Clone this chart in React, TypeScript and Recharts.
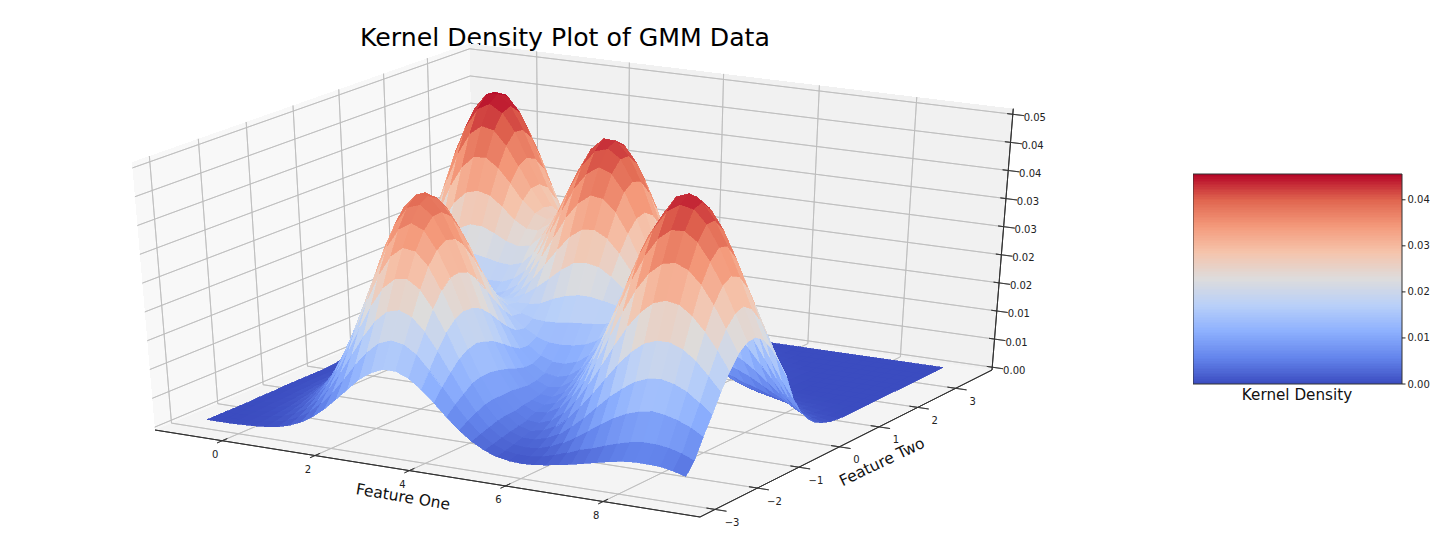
import { ComposedChart, Scatter, Line, XAxis, YAxis, ReferenceArea } from 'recharts'

const WIDTH = 1438
const HEIGHT = 558
const FONT = '"DejaVu Sans", sans-serif'

// Kernel density, in units of 0.0001.
// One row per Feature Two step (front to back), one value per Feature One step (left to right).
// Rows may stop early: whatever is missing on the right is 0.
const densityRows = [
  [0, 0, 0, 1, 2, 4, 7, 13, 22, 35, 52, 72, 93, 114, 129, 138, 138, 129, 113, 93, 71, 51, 35, 23, 15, 11, 10, 11, 14, 18, 22, 27, 32, 37, 41, 43, 43, 42, 38, 32],
  [0, 0, 0, 1, 3, 6, 11, 20, 33, 52, 75, 102, 131, 156, 175, 183, 179, 165, 141, 114, 86, 61, 41, 27, 18, 15, 15, 18, 24, 32, 41, 47, 55, 62, 68, 71, 71, 68, 62, 53],
  [0, 0, 1, 2, 5, 9, 17, 29, 48, 73, 104, 139, 174, 204, 224, 230, 221, 199, 168, 133, 98, 69, 46, 31, 22, 20, 22, 29, 39, 52, 67, 82, 96, 107, 114, 118, 115, 109, 100, 87],
  [0, 0, 1, 3, 7, 13, 24, 41, 66, 98, 138, 181, 222, 256, 275, 278, 263, 232, 193, 150, 110, 76, 51, 35, 27, 27, 33, 44, 61, 80, 102, 123, 141, 156, 165, 167, 162, 152, 136, 118],
  [0, 1, 2, 5, 9, 18, 33, 55, 86, 126, 174, 224, 271, 306, 324, 321, 298, 258, 210, 160, 115, 79, 54, 38, 32, 36, 47, 65, 89, 116, 145, 174, 198, 216, 224, 224, 215, 199, 176, 151],
  [0, 1, 3, 6, 13, 24, 42, 70, 108, 155, 209, 265, 314, 348, 362, 352, 320, 274, 218, 165, 116, 79, 54, 41, 39, 47, 64, 90, 122, 158, 196, 232, 260, 280, 287, 283, 267, 243, 214, 180],
  [1, 2, 4, 8, 16, 31, 52, 85, 128, 182, 241, 300, 349, 380, 388, 370, 331, 277, 217, 161, 113, 80, 58, 48, 51, 63, 87, 117, 158, 204, 250, 291, 323, 342, 347, 337, 315, 283, 245, 204],
  [1, 2, 5, 10, 20, 37, 62, 99, 147, 204, 266, 324, 371, 396, 397, 372, 327, 271, 210, 155, 109, 78, 60, 54, 61, 79, 109, 149, 196, 248, 299, 344, 377, 395, 396, 380, 349, 310, 264, 217],
  [1, 3, 6, 13, 24, 42, 70, 109, 160, 219, 280, 335, 376, 394, 387, 359, 310, 253, 195, 144, 103, 76, 63, 61, 73, 96, 131, 176, 229, 285, 341, 386, 419, 433, 428, 404, 367, 320, 270, 219],
  [2, 3, 7, 14, 27, 47, 76, 116, 166, 223, 281, 329, 363, 374, 364, 330, 282, 228, 176, 132, 98, 78, 69, 72, 87, 113, 150, 196, 252, 311, 365, 403, 437, 446, 434, 405, 363, 312, 259, 208],
  [2, 4, 8, 16, 29, 49, 79, 118, 166, 219, 269, 311, 336, 343, 327, 294, 249, 202, 158, 122, 98, 84, 80, 86, 102, 129, 165, 211, 264, 318, 369, 407, 430, 433, 416, 383, 338, 287, 234, 186],
  [2, 4, 9, 16, 29, 49, 77, 114, 160, 207, 249, 282, 301, 299, 283, 253, 216, 178, 145, 121, 105, 98, 98, 105, 120, 144, 176, 215, 262, 310, 353, 384, 400, 397, 376, 343, 298, 250, 202, 157],
  [2, 4, 9, 16, 31, 50, 76, 110, 148, 188, 222, 248, 260, 257, 240, 216, 188, 161, 142, 130, 123, 122, 124, 129, 140, 158, 181, 212, 249, 287, 320, 342, 351, 345, 323, 289, 249, 205, 163, 125],
  [2, 4, 8, 18, 31, 49, 73, 102, 134, 165, 193, 211, 219, 215, 203, 187, 171, 159, 153, 151, 152, 155, 157, 159, 162, 169, 183, 202, 226, 251, 274, 288, 291, 281, 260, 225, 186, 145, 108, 78],
  [3, 6, 12, 20, 32, 49, 70, 96, 123, 148, 168, 180, 185, 183, 176, 170, 168, 169, 174, 185, 193, 198, 198, 194, 189, 182, 182, 189, 199, 212, 224, 230, 228, 217, 197, 166, 132, 100, 70, 48],
  [5, 9, 14, 23, 36, 53, 72, 94, 115, 135, 150, 158, 161, 161, 163, 167, 178, 194, 212, 231, 246, 249, 245, 231, 212, 195, 180, 172, 170, 171, 174, 174, 170, 158, 140, 115, 90, 65, 45, 28],
  [7, 12, 19, 30, 43, 60, 79, 99, 117, 132, 141, 148, 149, 154, 162, 177, 200, 229, 258, 284, 300, 302, 290, 266, 236, 204, 176, 156, 142, 135, 129, 125, 118, 107, 92, 75, 58, 38, 26, 15],
  [10, 18, 28, 41, 58, 77, 98, 117, 131, 142, 148, 151, 153, 160, 175, 200, 233, 271, 309, 338, 355, 352, 331, 296, 254, 210, 171, 139, 119, 104, 95, 87, 80, 71, 59, 47, 35, 22, 14, 8],
  [16, 26, 41, 58, 79, 103, 125, 145, 158, 166, 168, 169, 169, 178, 196, 228, 270, 313, 356, 385, 400, 391, 361, 316, 262, 208, 163, 125, 97, 78, 66, 58, 50, 43, 35, 28, 20, 12, 7, 3],
  [24, 40, 59, 83, 111, 140, 167, 187, 200, 204, 200, 195, 193, 200, 222, 257, 301, 350, 392, 420, 427, 411, 373, 321, 261, 202, 151, 110, 79, 59, 47, 38, 31, 25, 20, 15, 10, 5, 3, 1],
  [36, 57, 84, 116, 151, 187, 217, 238, 249, 248, 239, 227, 221, 225, 246, 281, 326, 374, 414, 436, 435, 411, 368, 310, 247, 187, 135, 94, 64, 44, 32, 24, 18, 15, 11, 8, 5, 2, 1],
  [51, 78, 113, 155, 199, 241, 277, 298, 304, 298, 281, 260, 247, 246, 262, 294, 335, 377, 410, 427, 421, 392, 343, 284, 222, 164, 115, 78, 51, 33, 22, 15, 10, 7, 5, 3, 2, 1, 1],
  [68, 104, 148, 198, 251, 299, 336, 357, 359, 343, 318, 289, 268, 260, 269, 295, 327, 363, 389, 399, 387, 356, 307, 248, 189, 138, 95, 62, 38, 24, 15, 10, 6, 4, 2, 1, 1],
  [87, 131, 183, 242, 301, 353, 391, 408, 403, 378, 343, 305, 273, 259, 262, 279, 306, 333, 350, 353, 337, 304, 258, 207, 156, 111, 74, 46, 27, 16, 9, 5, 3, 1],
  [106, 156, 216, 280, 344, 397, 431, 443, 429, 397, 352, 307, 270, 249, 244, 254, 272, 289, 299, 297, 278, 247, 207, 163, 121, 85, 56, 35, 20, 11, 6, 3, 1],
  [122, 176, 240, 308, 371, 422, 451, 455, 436, 395, 345, 295, 252, 226, 215, 218, 228, 238, 243, 236, 219, 191, 157, 122, 89, 61, 40, 24, 14, 8, 4, 2, 1],
  [133, 189, 254, 321, 381, 427, 450, 447, 420, 375, 321, 268, 225, 196, 182, 177, 182, 185, 186, 178, 162, 140, 113, 86, 63, 42, 27, 16, 9, 5, 2, 1],
  [138, 192, 255, 316, 371, 409, 424, 415, 384, 337, 283, 232, 190, 160, 144, 138, 138, 138, 135, 127, 114, 96, 77, 58, 41, 28, 17, 10, 6, 3, 2, 1],
  [135, 186, 242, 297, 342, 370, 378, 364, 332, 287, 237, 190, 152, 126, 109, 102, 99, 98, 94, 87, 77, 64, 50, 37, 26, 17, 11, 6, 3, 2, 1],
  [125, 170, 218, 263, 299, 319, 321, 305, 273, 232, 188, 148, 116, 93, 79, 71, 68, 65, 61, 55, 48, 40, 31, 22, 15, 10, 6, 3, 2, 1],
  [110, 148, 187, 222, 247, 260, 257, 240, 213, 178, 142, 110, 84, 65, 53, 47, 44, 41, 38, 34, 29, 23, 18, 13, 9, 6, 3, 2, 1],
  [92, 122, 152, 177, 195, 202, 197, 180, 158, 129, 101, 77, 58, 44, 35, 30, 26, 25, 22, 19, 16, 13, 10, 7, 5, 3, 2, 1],
  [73, 95, 116, 134, 145, 148, 142, 128, 109, 88, 67, 49, 36, 26, 20, 17, 15, 14, 12, 10, 8, 7, 5, 3, 2, 1],
  [55, 71, 85, 97, 103, 103, 98, 87, 73, 57, 42, 30, 21, 15, 11, 9, 9, 8, 6, 5, 4, 3, 2, 1],
]
const DENSITY_UNIT = 0.0001
const DENSITY_MAX = 0.0456
const COLUMNS = 40
// the peaks sat a few pixels too high against the box
const SURFACE_LIFT = 0.977

const featureOneTicks = [0, 2, 4, 6, 8]
const featureTwoTicks = [-3, -2, -1, 0, 1, 2, 3]
const densityTicks = [0, 0.005, 0.01, 0.015, 0.02, 0.025, 0.03, 0.035, 0.04, 0.045]
const densityTickLabels = ['0.00', '0.01', '0.01', '0.02', '0.02', '0.03', '0.03', '0.04', '0.04', '0.05']
const colorbarTicks = [0, 0.01, 0.02, 0.03, 0.04]

// coolwarm
const COOLWARM = ['#3b4cc0', '#6485ec', '#8db0fe', '#b9d0f9', '#dddcdc', '#f5c4ac', '#f49a7b', '#e0654f', '#b40426']

function coolwarm(value: number) {
  const t = Math.min(1, Math.max(0, value)) * (COOLWARM.length - 1)
  const i = Math.min(COOLWARM.length - 2, Math.floor(t))
  const f = t - i
  const parse = (c: string) => [1, 3, 5].map((p) => parseInt(c.slice(p, p + 2), 16))
  const a = parse(COOLWARM[i])
  const b = parse(COOLWARM[i + 1])
  return `rgb(${a.map((v, k) => Math.round(v + (b[k] - v) * f)).join(',')})`
}

// 3d box corners on the picture: (xmin,ymin) (xmax,ymin) (xmax,ymax) (xmin,ymax)
const [x0, y0] = [155, 430]
const [x1, y1] = [700, 517]
const [x2, y2] = [992, 370]
const [x3, y3] = [475, 296]
const sx = x0 - x1 + x2 - x3
const sy = y0 - y1 + y2 - y3
const den = (x1 - x2) * (y3 - y2) - (x3 - x2) * (y1 - y2)
const pg = (sx * (y3 - y2) - (x3 - x2) * sy) / den
const ph = ((x1 - x2) * sy - sx * (y1 - y2)) / den

const Z_BOTTOM = -0.0005
const Z_TOP = 0.046
const Z_SCALE = 5620 * Math.pow(1 + pg + ph, 0.75)

type Pt = { x: number; y: number }

function project(u: number, v: number, z: number): Pt {
  const w = pg * u + ph * v + 1
  const fx = ((x1 - x0 + pg * x1) * u + (x3 - x0 + ph * x3) * v + x0) / w
  const fy = ((y1 - y0 + pg * y1) * u + (y3 - y0 + ph * y3) * v + y0) / w
  const lift = ((z - Z_BOTTOM) * Z_SCALE) / Math.pow(w, 0.75)
  return { x: fx + lift * (fx - 585) * 0.0002, y: fy - lift }
}

const featureOneU = (x: number) => (x + 1.47) / 11.42
const featureTwoV = (y: number) => (y + 3.35) / 7.33

function cell(pts: Pt[], fill: string, stroke: string, strokeWidth: number) {
  return { sx: pts[0].x, sy: pts[0].y, pts, fill, stroke, strokeWidth }
}
const line = (a: Pt, b: Pt, color: string, width: number) => cell([a, b], 'none', color, width)

const paneCells = [
  cell([project(0, 0, Z_BOTTOM), project(0, 1, Z_BOTTOM), project(0, 1, Z_TOP), project(0, 0, Z_TOP)], '#f8f8f8', 'none', 0),
  cell([project(0, 1, Z_BOTTOM), project(1, 1, Z_BOTTOM), project(1, 1, Z_TOP), project(0, 1, Z_TOP)], '#f1f1f1', 'none', 0),
  cell([project(0, 0, Z_BOTTOM), project(1, 0, Z_BOTTOM), project(1, 1, Z_BOTTOM), project(0, 1, Z_BOTTOM)], '#f4f4f4', 'none', 0),
]

const GRID = '#bcbcbc'
const AXIS = '#333333'
const gridCells: ReturnType<typeof cell>[] = []
const axisCells: ReturnType<typeof cell>[] = []

for (const t of featureOneTicks) {
  const u = featureOneU(t)
  gridCells.push(line(project(u, 0, Z_BOTTOM), project(u, 1, Z_BOTTOM), GRID, 0.8))
  gridCells.push(line(project(u, 1, Z_BOTTOM), project(u, 1, Z_TOP), GRID, 0.8))
  axisCells.push(line(project(u, -0.015, Z_BOTTOM), project(u, 0.015, Z_BOTTOM), AXIS, 0.8))
}
for (const t of featureTwoTicks) {
  const v = featureTwoV(t)
  gridCells.push(line(project(1, v, Z_BOTTOM), project(0, v, Z_BOTTOM), GRID, 0.8))
  gridCells.push(line(project(0, v, Z_BOTTOM), project(0, v, Z_TOP), GRID, 0.8))
  axisCells.push(line(project(0.985, v, Z_BOTTOM), project(1.02, v, Z_BOTTOM), AXIS, 0.8))
}
for (const t of densityTicks) {
  gridCells.push(line(project(0, 0, t), project(0, 1, t), GRID, 0.8))
  gridCells.push(line(project(0, 1, t), project(1, 1, t), GRID, 0.8))
  axisCells.push(line(project(0.99, 1, t), project(1.02, 1, t), AXIS, 0.8))
}
axisCells.push(line(project(0, 0, Z_BOTTOM), project(1, 0, Z_BOTTOM), AXIS, 1))
axisCells.push(line(project(1, 0, Z_BOTTOM), project(1, 1, Z_BOTTOM), AXIS, 1))
axisCells.push(line(project(1, 1, Z_BOTTOM), project(1, 1, Z_TOP), AXIS, 1))

// surface extent inside the box
const U_MIN = 0.048
const U_MAX = 0.93
const V_MIN = 0.08
const V_MAX = 0.958

const surfaceCells = (() => {
  const rows = densityRows.length
  const uAt = (i: number) => U_MIN + ((U_MAX - U_MIN) * i) / (COLUMNS - 1)
  const vAt = (j: number) => V_MIN + ((V_MAX - V_MIN) * j) / (rows - 1)
  const facets: { depth: number; item: ReturnType<typeof cell> }[] = []
  for (let j = 0; j < rows - 1; j++) {
    for (let i = 0; i < COLUMNS - 1; i++) {
      const corners: [number, number][] = [[i, j], [i + 1, j], [i + 1, j + 1], [i, j + 1]]
      const zs = corners.map(([a, b]) => (densityRows[b][a] ?? 0) * DENSITY_UNIT)
      const zMean = zs.reduce((s, z) => s + z, 0) / 4
      const color = coolwarm(zMean / DENSITY_MAX)
      const pts = corners.map(([a, b], k) => project(uAt(a), vAt(b), zs[k] * SURFACE_LIFT))
      const depth = 0.433 * uAt(i + 0.5) - 0.75 * vAt(j + 0.5) + (0.5 * zMean) / Z_TOP
      facets.push({ depth, item: cell(pts, color, color, 0.7) })
    }
  }
  return facets.sort((a, b) => a.depth - b.depth).map((f) => f.item)
})()

// the scales are 1:1 with the picture, so corners keep their offset from the point
function Cell(props: any) {
  const { cx, cy, payload } = props
  const points = payload.pts
    .map((p: Pt) => `${cx + p.x - payload.sx},${cy + p.y - payload.sy}`)
    .join(' ')
  return (
    <polygon
      points={points}
      fill={payload.fill}
      stroke={payload.stroke}
      strokeWidth={payload.strokeWidth}
      shapeRendering={payload.fill === 'none' ? undefined : 'crispEdges'}
    />
  )
}

const tickText = { fontFamily: FONT, fontSize: 10, fill: '#222', textAnchor: 'middle' as const, dominantBaseline: 'central' as const }

function formatMinus(v: number) {
  return v < 0 ? `\u2212${Math.abs(v)}` : `${v}`
}

const colorbarBands = Array.from({ length: 128 }, (_, i) => i)

function Colorbar() {
  return (
    <ComposedChart
      width={245}
      height={230}
      data={[{ k: 0, v: 0 }, { k: 1, v: DENSITY_MAX }]}
      margin={{ top: 10, right: 0, bottom: 10, left: 0 }}
      style={{ position: 'absolute', left: 1193, top: 164 }}
    >
      <XAxis dataKey="k" hide />
      <YAxis
        orientation="right"
        type="number"
        domain={[0, DENSITY_MAX]}
        ticks={colorbarTicks}
        interval={0}
        tickFormatter={(v: number) => v.toFixed(2)}
        tick={{ fontFamily: FONT, fontSize: 10, fill: '#222' }}
        tickSize={3.5}
        tickLine={{ stroke: '#222' }}
        axisLine={false}
        width={36}
      />
      <Line dataKey="v" stroke="none" dot={false} isAnimationActive={false} />
      {colorbarBands.map((i) => (
        <ReferenceArea
          key={i}
          y1={(i / 128) * DENSITY_MAX}
          y2={((i + 1) / 128) * DENSITY_MAX}
          fill={coolwarm((i + 0.5) / 128)}
          fillOpacity={1}
          stroke="none"
          shapeRendering="crispEdges"
        />
      ))}
      <ReferenceArea y1={0} y2={DENSITY_MAX} fill="none" stroke="#333" strokeWidth={1} />
    </ComposedChart>
  )
}

export default function App() {
  return (
    <div style={{ position: 'absolute', left: 0, top: 0, width: WIDTH, height: HEIGHT, background: '#fff', overflow: 'hidden' }}>
      <ComposedChart width={WIDTH} height={HEIGHT} margin={{ top: 0, right: 0, bottom: 0, left: 0 }}>
        <XAxis type="number" dataKey="sx" domain={[0, WIDTH]} hide allowDataOverflow />
        <YAxis type="number" dataKey="sy" domain={[0, HEIGHT]} reversed hide allowDataOverflow width={0} />
        <Scatter data={paneCells} shape={Cell} isAnimationActive={false} />
        <Scatter data={gridCells} shape={Cell} isAnimationActive={false} />
        <Scatter data={axisCells} shape={Cell} isAnimationActive={false} />
        <Scatter data={surfaceCells} shape={Cell} isAnimationActive={false} />
        <text x={565} y={46} textAnchor="middle" fontFamily={FONT} fontSize={25.2} fill="#000">
          Kernel Density Plot of GMM Data
        </text>
        {featureOneTicks.map((t) => {
          const p = project(featureOneU(t), 0, Z_BOTTOM)
          return <text key={t} x={p.x - 7} y={p.y + 14} {...tickText}>{formatMinus(t)}</text>
        })}
        {featureTwoTicks.map((t) => {
          const p = project(1, featureTwoV(t), Z_BOTTOM)
          return <text key={t} x={p.x + 17} y={p.y + 13} {...tickText}>{formatMinus(t)}</text>
        })}
        {densityTicks.map((t, i) => {
          const p = project(1, 1, t)
          return <text key={t} x={p.x + 22} y={p.y + 3} {...tickText}>{densityTickLabels[i]}</text>
        })}
        <text x={403} y={497} textAnchor="middle" dominantBaseline="central" fontFamily={FONT} fontSize={15.5} fill="#111" transform="rotate(9.5 403 497)">
          Feature One
        </text>
        <text x={882} y={462} textAnchor="middle" dominantBaseline="central" fontFamily={FONT} fontSize={15.5} fill="#111" transform="rotate(-25.5 882 462)">
          Feature Two
        </text>
        <text x={1297} y={395} textAnchor="middle" dominantBaseline="central" fontFamily={FONT} fontSize={15.2} fill="#111">
          Kernel Density
        </text>
      </ComposedChart>
      <Colorbar />
    </div>
  )
}
